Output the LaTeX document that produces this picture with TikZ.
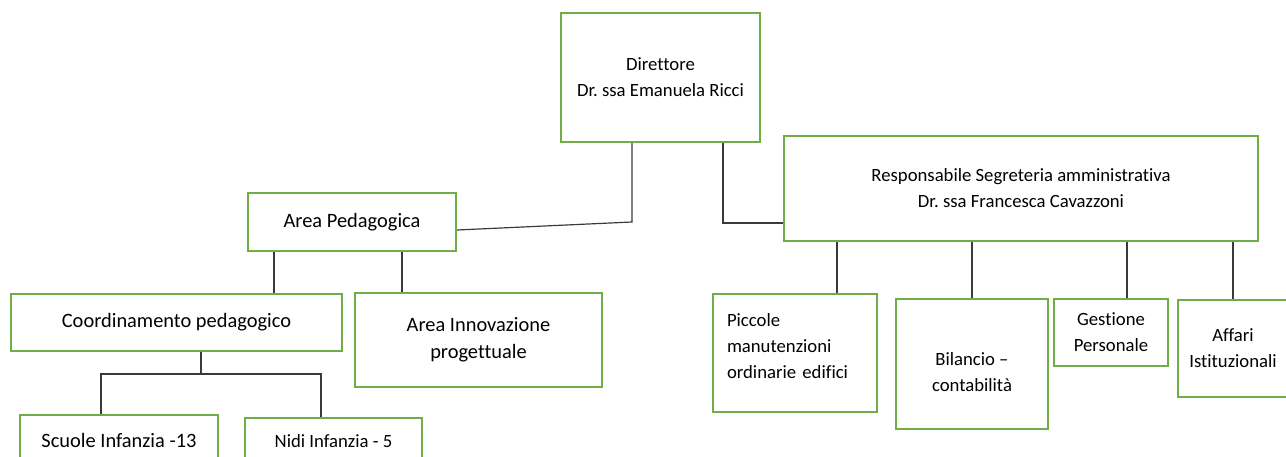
\documentclass[tikz,border=0pt]{standalone}
\usepackage{fontspec}
\setmainfont{Carlito}[Ligatures=NoCommon]
\usetikzlibrary{calc}
\definecolor{orgGreen}{HTML}{70AD47}
\definecolor{orgInk}{HTML}{3A3A3A}
\tikzset{
  org box/.style={draw=orgGreen, line width=1.2pt, fill=white, align=center,
    inner sep=0pt},
  box wh/.style 2 args={minimum width=#1*0.588pt, minimum height=#2*0.588pt},
  org small/.style={font=\frenchspacing\fontsize{11}{15.3}\selectfont},
  org large/.style={font=\frenchspacing\fontsize{12}{16}\selectfont},
  org line/.style={draw=orgInk, line width=0.7pt}
}
\begin{document}
\begin{tikzpicture}[x=0.588pt,y=-0.588pt]
  \clip (0,0) rectangle (1286,457);
  \fill[white] (0,0) rectangle (1286,457);
  \node[org box, org small, box wh={199}{129}] (dir) at (660.5,77.5) {Direttore\\Dr. ssa Emanuela Ricci};
  \node[org box, org small, box wh={474}{105}] (resp) at (1021,188.5) {Responsabile Segreteria amministrativa\\Dr. ssa Francesca Cavazzoni};
  \node[org box, org large, box wh={208}{58}] (ped) at (352,222) {Area Pedagogica};
  \node[org box, org large, box wh={331}{57}] (coord) at (176.5,322.5) {Coordinamento pedagogico};
  \node[org box, org large, box wh={247}{94}] (innov) at (478.5,340) {Area Innovazione\\progettuale};
  \node[org box, org large, box wh={198}{50}] (scuole) at (119,440) {Scuole Infanzia -13};
  \node[org box, org small, box wh={177}{46}] (nidi) at (333.5,441) {Nidi Infanzia - 5};
  \node[org box, org small, box wh={164}{118}, align=left, text width=136*0.588pt, inner xsep=14*0.588pt]
    (picc) at (795,353) {Piccole\\manutenzioni\\ordinarie edifici\rule[-8.4pt]{0pt}{8.4pt}};
  \node[org box, org small, box wh={152}{130}] (bil) at (972,364) {\rule{0pt}{17pt}Bilancio –\\contabilità};
  \node[org box, org small, box wh={114}{67}] (gest) at (1111,332.5) {Gestione\\Personale};
  \node[org box, org small, box wh={110}{97}] (aff) at (1233,348.5) {Affari\\Istituzionali};

  \coordinate (dirL) at (632,222);
  \coordinate (dirR) at (723,223);
  \draw[org line] (dir.south -| dirL) -- (dirL) -- ($(ped.east)+(0,8)$);
  \draw[org line] (dir.south -| dirR) -- (dirR) -- (resp.west |- dirR);
  \draw[org line] (ped.south -| 274,0) -- (coord.north -| 274,0);
  \draw[org line] (ped.south -| 402,0) -- (innov.north -| 402,0);
  \coordinate (coordJ) at (201,374);
  \draw[org line] (coord.south -| coordJ) -- (coordJ);
  \draw[org line] (coordJ) -| (scuole.north -| 101,0);
  \draw[org line] (coordJ) -| (nidi.north -| 321,0);
  \foreach \xx/\kid in {837/picc, 972/bil, 1127/gest, 1233/aff}
    \draw[org line] (resp.south -| \xx,0) -- (\kid.north -| \xx,0);
\end{tikzpicture}
\end{document}
